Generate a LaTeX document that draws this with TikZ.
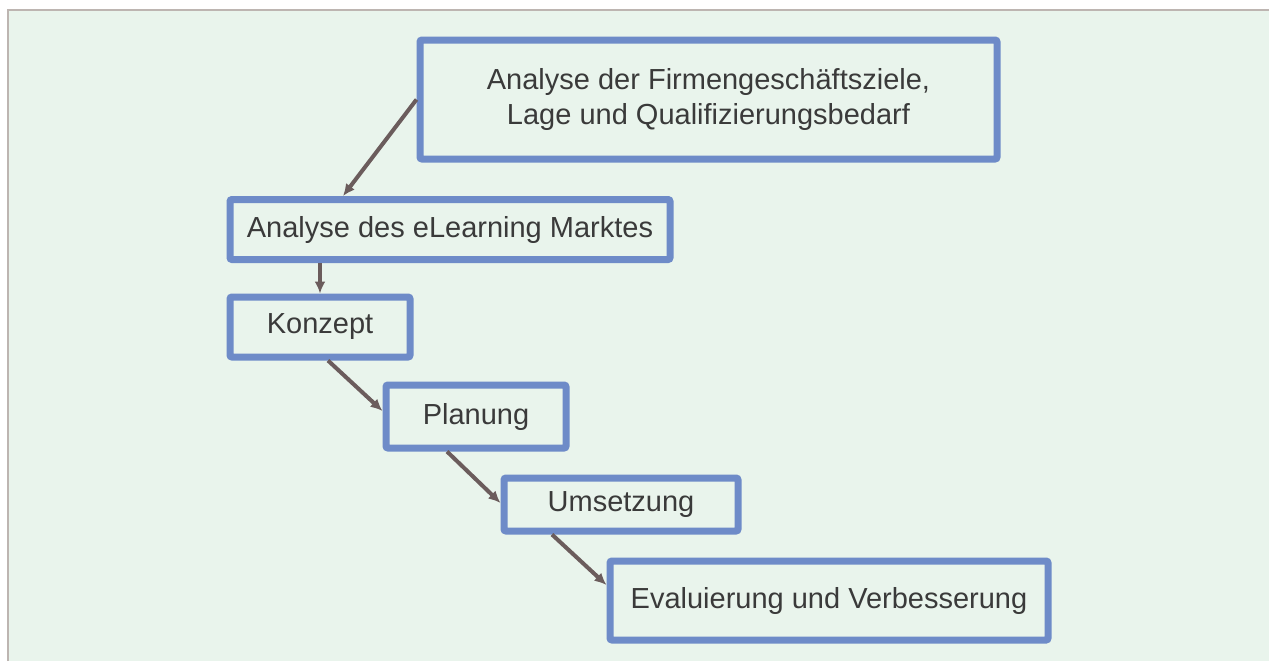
\documentclass[tikz,border=0pt]{standalone}
\usepackage{fontspec}
\setmainfont{Liberation Sans}
\usetikzlibrary{arrows.meta}

\definecolor{bgfill}{HTML}{E9F4EC}
\definecolor{bgline}{HTML}{BDB5B1}
\definecolor{boxline}{HTML}{6E8BC8}
\definecolor{arrline}{HTML}{6B5C5C}
\definecolor{txt}{HTML}{3A3A3A}

\tikzset{
    phase/.style={draw=boxline,line width=3.5pt,rounded corners=1pt,text=txt,align=center,inner sep=0pt,
        font=\fontsize{14.5}{17.5}\selectfont},
    flow/.style={draw=arrline,line width=2pt,->},
    >={Latex[length=6pt,width=5.5pt]}
}

\begin{document}
\begin{tikzpicture}[x=0.5pt,y=-0.5pt]
    \useasboundingbox(0,0)rectangle(1269,661);
    \fill[bgfill](8,10)rectangle(1269,661);
    \draw[bgline,line width=1pt](8,661)--(8,10)--(1269,10);

    \node[phase,minimum width=288.5pt,minimum height=59.5pt](ziele)at(708.5,99.5){Analyse der Firmengeschäftsziele,\\Lage und Qualifizierungsbedarf};
    \node[phase,minimum width=220pt,minimum height=30pt](markt)at(450,229.5){Analyse des eLearning Marktes};
    \node[phase,minimum width=90pt,minimum height=30pt](konzept)at(320,327){Konzept};
    \node[phase,minimum width=90pt,minimum height=31.5pt](planung)at(476,416.5){Planung};
    \node[phase,minimum width=117pt,minimum height=26.5pt](umsetz)at(621,504.5){Umsetzung};
    \node[phase,minimum width=219pt,minimum height=39.5pt](eval)at(829,600.5){Evaluierung und Verbesserung};

    \draw[flow](ziele.west)--([xshift=-53.5pt]markt.north);
    \draw[flow](markt.south -| konzept.north)--(konzept.north);
    \draw[flow]([xshift=4pt]konzept.south)--([yshift=2.75pt]planung.west);
    \draw[flow]([xshift=-14.5pt]planung.south)--([yshift=0.75pt]umsetz.west);
    \draw[flow]([xshift=-34.5pt]umsetz.south)--([yshift=7.75pt]eval.west);
\end{tikzpicture}
\end{document}
